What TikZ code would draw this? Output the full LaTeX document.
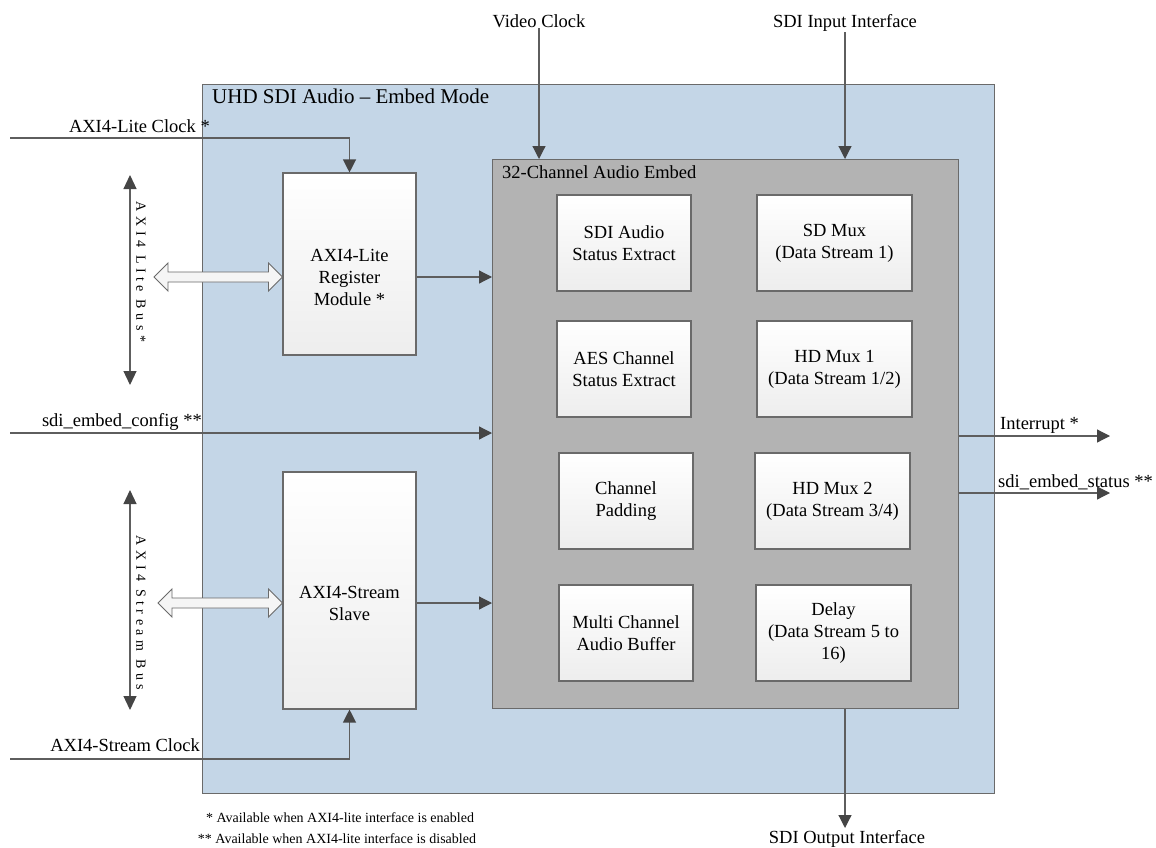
\documentclass[tikz,border=0pt]{standalone}
\usepackage{fontspec}
\setmainfont{Liberation Serif}
\newfontfamily\blockfont{Liberation Serif}
\usetikzlibrary{arrows.meta, calc}
\definecolor{embedblue}{HTML}{C4D6E7}
\definecolor{coregray}{HTML}{B3B3B3}
\definecolor{edgegray}{HTML}{6A6A6A}
\definecolor{wiregray}{HTML}{5E5E5E}
\definecolor{tipgray}{HTML}{454545}

\begin{document}
\begin{tikzpicture}[x=1pt, y=-1pt,
  every node/.style={font=\blockfont\fontsize{18.5}{22}\selectfont, inner sep=0pt},
  modbox/.style={draw=edgegray, line width=1.1pt, top color=white,
                 bottom color=black!7, minimum width=134pt,
                 minimum height=96pt, align=center},
  muxbox/.style={modbox, minimum width=155pt},
  axibox/.style={modbox, minimum width=133pt},
  hollow/.style={draw=edgegray, fill=black!4, line width=0.9pt, line join=miter},
  wire/.style={draw=wiregray, line width=1.2pt,
               -{Triangle[length=13pt, width=13pt, color=tipgray]}},
  bus/.style={draw=wiregray, line width=1.2pt,
              {Triangle[length=14pt, width=13pt, color=tipgray]}-{Triangle[length=14pt, width=13pt, color=tipgray]}},
  buslbl/.style={rotate=-90, font={\blockfont\fontsize{14}{16}\selectfont\addfontfeature{LetterSpace=32}}},
  note/.style={anchor=base, font=\blockfont\fontsize{14}{21}\selectfont}
]
\useasboundingbox (0,0) rectangle (1156,848);

%% enclosing core and embed block
\node[draw=edgegray, line width=1.2pt, fill=embedblue, anchor=north west,
      minimum width=792pt, minimum height=709pt] (uhd) at (202,84) {};
\node[anchor=base west, font=\blockfont\fontsize{21}{25}\selectfont] (uhdtitle) at (212,104)
  {UHD SDI Audio \textendash\ Embed Mode};
\node[draw=edgegray, line width=1.2pt, fill=coregray, anchor=north west,
      minimum width=466pt, minimum height=549pt] (core) at (492,159) {};
\node[anchor=base west] (coretitle) at (502,178) {32-Channel Audio Embed};

%% sub-blocks
\node[modbox] (sdistat) at (624,243)   {SDI Audio\\Status Extract};
\node[modbox] (aesstat) at (624,369)   {AES Channel\\Status Extract};
\node[modbox] (padding) at (626,501)   {Channel\\Padding};
\node[modbox] (mcbuf)   at (626,633)   {Multi Channel\\Audio Buffer};
\node[muxbox] (sdmux)   at (834.5,243) {SD Mux\\(Data Stream 1)};
\node[muxbox] (hdmuxa)  at (834.5,369) {HD Mux 1\\(Data Stream 1/2)};
\node[muxbox] (hdmuxb)  at (832.5,501) {HD Mux 2\\(Data Stream 3/4)};
\node[muxbox] (delay)   at (833.5,633) {Delay\\(Data Stream 5 to\\16)};

%% AXI blocks
\node[axibox, minimum height=182pt] (reg)  at (349.5,264) {};
\node[align=center] (regtxt) at (349.5,277) {AXI4-Lite\\Register\\Module *};
\node[axibox, minimum height=237pt] (axis) at (349.5,590.5) {};
\node[align=center] (axistxt) at (349.5,603) {AXI4-Stream\\Slave};

%% buses on the left
\coordinate (litetop) at (130,175);
\coordinate (litebot) at (130,385);
\draw[bus] (litetop) -- (litebot);
\node[buslbl] (litelbl) at (141,272) {AXI4 LIte Bus*};
\coordinate (litelink) at (154,277);
\draw[hollow] (litelink) -- ++(14,-14) -- ++(0,9)
  -- ($(litelink -| reg.west)+(-14,-5)$) -- ++(0,-9) -- (litelink -| reg.west)
  -- ++(-14,14) -- ++(0,-9) -- ($(litelink)+(14,5)$) -- ++(0,9) -- cycle;

\coordinate (strtop) at (130,490);
\coordinate (strbot) at (130,710);
\draw[bus] (strtop) -- (strbot);
\node[buslbl] (strlbl) at (141,613) {AXI4 Stream Bus};
\coordinate (strlink) at (158,603);
\draw[hollow] (strlink) -- ++(14,-14) -- ++(0,9)
  -- ($(strlink -| axis.west)+(-14,-5)$) -- ++(0,-9) -- (strlink -| axis.west)
  -- ++(-14,14) -- ++(0,-9) -- ($(strlink)+(14,5)$) -- ++(0,9) -- cycle;

%% inputs
\coordinate (liteclk) at (10,138);
\node[anchor=base east] (liteclklbl) at (210,132) {AXI4-Lite Clock *};
\draw[wire] (liteclk) -| (reg.north);

\coordinate (cfgin) at (10,433);
\node[anchor=base east] (cfglbl) at (202,426) {sdi\_embed\_config **};
\draw[wire] (cfgin) -- (cfgin -| core.west);

\coordinate (strclk) at (10,759);
\node[anchor=base east] (strclklbl) at (200,751) {AXI4-Stream Clock};
\draw[wire] (strclk) -| (axis.south);

\node[anchor=base] (vclk) at (539,28) {Video Clock};
\draw[wire] (vclk.south) -- (vclk.south |- core.north);

\node[anchor=base] (sdiin) at (845,28) {SDI Input Interface};
\draw[wire] (sdiin.south) -- (sdiin.south |- core.north);

\draw[wire] (regtxt -| reg.east) -- (regtxt -| core.west);
\draw[wire] (axistxt -| axis.east) -- (axistxt -| core.west);

%% outputs
\coordinate (irqout) at (1110,436);
\node[anchor=base west] (irqlbl) at (1000,429) {Interrupt *};
\draw[wire] (irqout -| core.east) -- (irqout);

\coordinate (statout) at (1110,493);
\node[anchor=base west] (statlbl) at (998,487) {sdi\_embed\_status **};
\draw[wire] (statout -| core.east) -- (statout);

\coordinate (sdiout) at (845,828);
\draw[wire] (sdiout |- core.south) -- (sdiout);
\node[anchor=base] (sdioutlbl) at (847,843) {SDI Output Interface};

%% footnotes
\node[note] (note1) at (340,822) {* Available when AXI4-lite interface is enabled};
\node[note] (note2) at (337,843) {** Available when AXI4-lite interface is disabled};
\end{tikzpicture}
\end{document}
